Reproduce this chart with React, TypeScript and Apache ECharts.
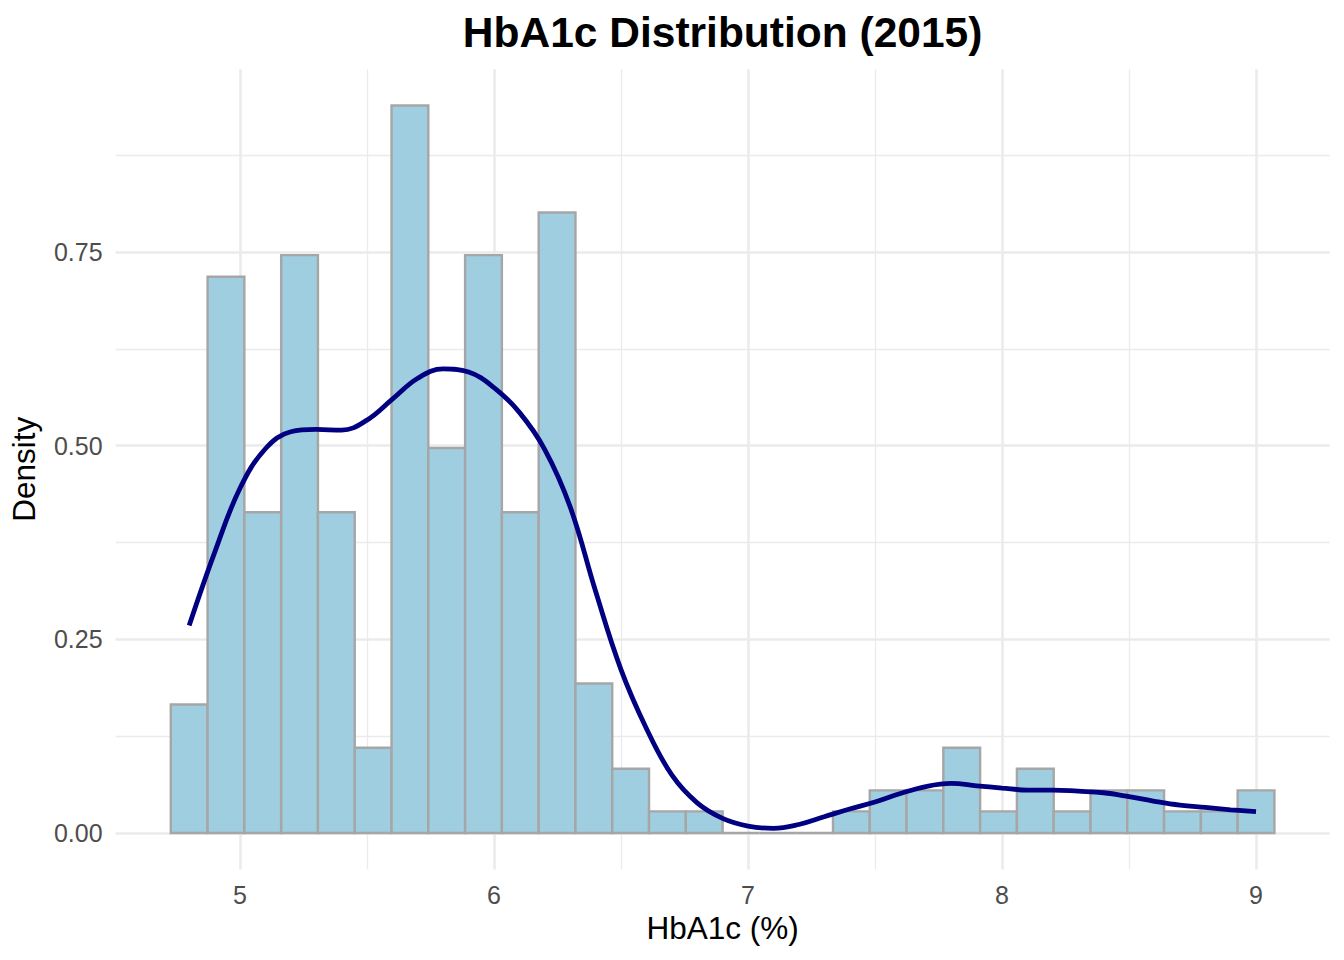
import { useEffect, useRef } from 'react'
import * as echarts from 'echarts'

// histogram: 30 bins, start edge and width, density per bin
const binStart = 4.7276
const binWidth = 0.14483
const binDensity = [
  0.166, 0.718, 0.414, 0.746, 0.414, 0.11, 0.939, 0.497, 0.746, 0.414,
  0.801, 0.193, 0.083, 0.028, 0.028, 0, 0, 0, 0.028, 0.055,
  0.055, 0.11, 0.028, 0.083, 0.028, 0.055, 0.055, 0.028, 0.028, 0.055
]

// kernel density curve
const densityX = [
  4.8, 4.9, 5.0, 5.1, 5.2, 5.3, 5.4, 5.5, 5.6, 5.7, 5.8, 5.9, 6.0, 6.1, 6.2,
  6.3, 6.4, 6.5, 6.6, 6.7, 6.8, 6.9, 7.0, 7.1, 7.2, 7.3, 7.4, 7.5, 7.6, 7.7,
  7.8, 7.9, 8.0, 8.1, 8.2, 8.3, 8.4, 8.5, 8.6, 8.7, 8.8, 8.9, 9.0
]
const densityY = [
  0.268, 0.362, 0.445, 0.496, 0.518, 0.521, 0.52, 0.533, 0.56, 0.587, 0.599,
  0.595, 0.575, 0.543, 0.495, 0.421, 0.312, 0.211, 0.135, 0.075, 0.039, 0.019,
  0.009, 0.006, 0.011, 0.021, 0.031, 0.04, 0.051, 0.06, 0.064, 0.061, 0.058,
  0.0555, 0.0555, 0.054, 0.052, 0.047, 0.041, 0.036, 0.033, 0.03, 0.0275
]

const xTicks = [5, 6, 7, 8, 9]
const xMinorTicks = [5.5, 6.5, 7.5, 8.5]
const yTicks = [0, 0.25, 0.5, 0.75]
const yMinorTicks = [0.125, 0.375, 0.625, 0.875]

const xMin = 4.5103
const xMax = 9.2897
const yMin = -0.04695
const yMax = 0.98595

const FONT = '"Liberation Sans", Arial, Helvetica, sans-serif'
const GRID_COLOR = '#EBEBEB'

function App() {
  const chartRef = useRef<HTMLDivElement>(null)

  useEffect(() => {
    if (!chartRef.current) return
    document.body.style.margin = '0'
    const chart = echarts.init(chartRef.current, null, { renderer: 'svg' })

    const bins = binDensity.map((d, i) => [
      binStart + i * binWidth,
      binStart + (i + 1) * binWidth,
      d
    ])

    const option: echarts.EChartsOption = {
      animation: false,
      backgroundColor: '#fff',
      textStyle: { fontFamily: FONT },
      graphic: [
        {
          type: 'text',
          x: 722.6,
          y: 32,
          style: {
            text: 'HbA1c Distribution (2015)',
            fontFamily: FONT,
            fontSize: 42.5,
            fontWeight: 'bold',
            fill: '#000',
            align: 'center',
            verticalAlign: 'middle'
          }
        }
      ],
      grid: {
        left: 115.6,
        right: 14.4,
        top: 69.2,
        bottom: 90.6,
        outerBoundsMode: 'none'
      } as any,
      xAxis: [
        {
          type: 'value',
          min: xMin,
          max: xMax,
          name: 'HbA1c (%)',
          nameLocation: 'middle',
          nameGap: 41.6,
          nameTextStyle: { fontFamily: FONT, fontSize: 31.5, color: '#000' },
          axisLine: { show: false },
          axisTick: { show: false, customValues: xTicks } as any,
          axisLabel: {
            customValues: xTicks,
            margin: 12.7,
            fontFamily: FONT,
            fontSize: 25,
            color: '#4D4D4D'
          } as any,
          splitLine: { show: true, lineStyle: { color: GRID_COLOR, width: 2.6 } }
        },
        {
          type: 'value',
          min: xMin,
          max: xMax,
          axisLine: { show: false },
          axisTick: { show: false, customValues: xMinorTicks } as any,
          axisLabel: { show: false, customValues: xMinorTicks } as any,
          splitLine: { show: true, lineStyle: { color: GRID_COLOR, width: 1.3 } }
        }
      ],
      yAxis: [
        {
          type: 'value',
          min: yMin,
          max: yMax,
          name: 'Density',
          nameLocation: 'middle',
          nameGap: 75.8,
          nameTextStyle: { fontFamily: FONT, fontSize: 31.5, color: '#000' },
          axisLine: { show: false },
          axisTick: { show: false, customValues: yTicks } as any,
          axisLabel: {
            customValues: yTicks,
            margin: 13,
            fontFamily: FONT,
            fontSize: 25,
            color: '#4D4D4D',
            formatter: (v: number) => v.toFixed(2)
          } as any,
          splitLine: { show: true, lineStyle: { color: GRID_COLOR, width: 2.6 } }
        },
        {
          type: 'value',
          min: yMin,
          max: yMax,
          axisLine: { show: false },
          axisTick: { show: false, customValues: yMinorTicks } as any,
          axisLabel: { show: false, customValues: yMinorTicks } as any,
          splitLine: { show: true, lineStyle: { color: GRID_COLOR, width: 1.3 } }
        }
      ],
      series: [
        {
          type: 'custom',
          name: 'Histogram',
          xAxisIndex: 0,
          yAxisIndex: 0,
          data: bins,
          encode: { x: [0, 1], y: 2 },
          renderItem: (_params: any, api: any) => {
            const top = api.coord([api.value(0), api.value(2)])
            const base = api.coord([api.value(1), 0])
            return {
              type: 'polygon',
              shape: {
                points: [
                  [top[0], base[1]],
                  [top[0], top[1]],
                  [base[0], top[1]],
                  [base[0], base[1]]
                ]
              },
              style: { fill: '#9FCEE0', stroke: '#A6A6A6', lineWidth: 2.4 }
            }
          }
        },
        {
          type: 'line',
          name: 'Density',
          xAxisIndex: 0,
          yAxisIndex: 0,
          data: densityX.map((x, i) => [x, densityY[i]]),
          showSymbol: false,
          smooth: 0.4,
          lineStyle: { color: '#000080', width: 4.8, cap: 'butt' },
          z: 3
        }
      ]
    }

    chart.setOption(option)
    return () => {
      chart.dispose()
    }
  }, [])

  return <div ref={chartRef} style={{ width: 1344, height: 960 }} />
}

export default App
